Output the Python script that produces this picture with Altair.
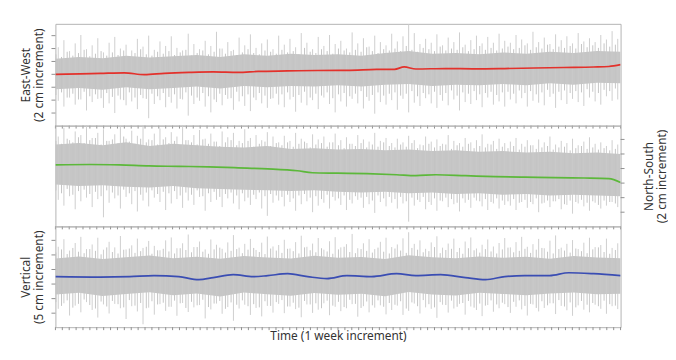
import altair as alt
import pandas as pd

WEEKS = 82
N_BINS = 100
N_CORE = 25
WEEK_TICKS = list(range(0, WEEKS + 1))

# ---------- East-West (cm) ----------
ew_a_hi = [4.2, 5.3, 3.6, 4.8, 6.1, 3.9, 4.5, 5.6, 3.4, 4.9, 5.8, 4.0, 4.6, 3.7, 5.5, 4.3, 6.0, 3.8, 5.1, 4.4,
           5.9, 4.1, 3.7, 6.3, 4.7, 3.9, 5.2, 4.4, 6.6, 4.0, 5.0, 3.8, 5.7, 4.5, 6.2, 4.1, 4.8, 5.4, 3.9, 6.0,
           4.6, 5.5, 4.2, 6.4, 4.9, 3.9, 5.8, 4.4, 6.1, 4.7, 5.2, 4.0, 6.5, 4.8, 5.6, 4.3, 6.0, 5.0, 4.5, 6.3,
           5.1, 5.9, 7.8, 6.4, 4.7, 5.5, 4.9, 6.2, 4.5, 5.7, 5.0, 6.5, 4.6, 5.3, 6.0, 4.8, 5.8, 4.9, 6.3, 5.2,
           4.9, 6.1, 5.4, 4.8, 6.6, 5.0, 5.7, 4.7, 6.2, 5.3, 5.9, 4.8, 6.4, 5.1, 5.6, 5.0, 6.1, 5.4, 6.7, 5.5]
ew_a_lo = [-4.1, -5.0, -3.6, -4.7, -3.9, -5.6, -4.3, -3.8, -5.2, -4.5, -6.0, -3.9, -4.8, -4.2, -5.4, -3.7, -6.8, -4.6, -4.0, -5.1,
           -4.4, -5.3, -3.9, -6.4, -4.6, -4.1, -5.0, -5.9, -4.3, -4.8, -3.8, -5.5, -4.2, -4.9, -5.7, -4.0, -4.5, -5.2, -3.7, -4.7,
           -5.1, -3.9, -5.8, -4.4, -4.8, -4.0, -5.4, -3.6, -4.6, -5.9, -4.2, -5.0, -3.8, -4.5, -5.3, -4.1, -6.1, -4.3, -4.7, -4.0,
           -5.5, -3.8, -5.9, -4.4, -4.9, -3.7, -4.5, -5.2, -4.1, -4.8, -3.9, -5.6, -4.3, -4.6, -4.0, -5.1, -3.6, -4.7, -4.2, -5.0,
           -3.9, -4.5, -3.7, -5.0, -4.1, -4.4, -4.8, -3.5, -5.2, -4.0, -4.6, -3.8, -4.3, -4.9, -3.6, -4.2, -4.7, -3.4, -4.1, -3.9]
ew_b_hi = [3.1, 2.7, 3.5, 2.9, 3.3, 3.8, 2.8, 3.2, 3.6, 2.9, 3.4, 3.0, 3.7, 2.8, 3.3, 3.9, 3.1, 2.9, 3.5, 3.2,
           3.6, 3.0, 3.4, 3.8, 2.9, 3.3, 3.7, 3.1, 3.5, 4.0, 3.2, 3.6, 3.0, 3.4, 3.9, 3.3, 3.1, 3.7, 3.5, 3.2,
           3.8, 3.4, 3.6, 3.1, 4.1, 3.5, 3.3, 3.9, 3.6, 3.2, 4.0, 3.7, 3.4, 3.8, 3.5, 4.2, 3.6, 3.3, 3.9, 3.7,
           4.0, 3.6, 4.4, 3.8, 3.5, 4.1, 3.9, 3.6, 4.3, 3.7, 4.0, 3.8, 4.2, 3.6, 3.9, 4.4, 3.8, 4.1, 3.7, 4.0,
           4.3, 3.9, 4.1, 4.5, 3.8, 4.2, 4.0, 4.6, 3.9, 4.3, 4.1, 4.4, 4.0, 4.7, 4.2, 4.5, 4.1, 4.8, 4.3, 4.6]
ew_b_lo = [-3.2, -2.8, -3.6, -3.0, -3.9, -2.7, -3.4, -3.1, -3.7, -2.9, -3.5, -3.3, -4.0, -2.8, -3.6, -3.2, -3.8, -3.0, -3.4, -2.9,
           -3.5, -3.1, -3.8, -2.8, -3.3, -3.6, -2.9, -3.4, -3.9, -3.0, -3.2, -3.7, -2.7, -3.4, -3.1, -3.6, -2.9, -3.3, -3.8, -3.0,
           -3.1, -2.8, -3.5, -3.2, -2.7, -3.6, -3.0, -3.3, -2.8, -3.7, -3.1, -2.9, -3.4, -3.0, -2.6, -3.5, -3.2, -2.8, -3.3, -3.0,
           -2.8, -3.3, -3.0, -2.6, -3.4, -2.9, -3.1, -2.7, -3.2, -2.9, -2.5, -3.3, -2.8, -3.0, -2.6, -3.1, -2.9, -2.7, -3.2, -2.8,
           -2.7, -3.0, -2.5, -2.9, -2.6, -3.1, -2.8, -2.4, -3.0, -2.7, -2.5, -2.9, -2.6, -2.8, -2.3, -2.7, -2.9, -2.4, -2.6, -2.2]
ew_core_hi = [2.4, 2.7, 2.5, 2.9, 2.6, 2.8, 3.0, 2.7, 3.1, 2.9, 3.2, 3.0, 3.1, 2.9, 3.3, 3.6, 3.2, 3.3, 3.1, 3.4, 3.2, 3.5, 3.3, 3.6, 3.5]
ew_core_lo = [-2.3, -2.1, -2.4, -2.0, -2.3, -2.1, -1.9, -2.2, -1.8, -2.0, -1.8, -1.9, -1.7, -1.9, -1.6, -1.5, -1.8, -1.6, -1.7, -1.5, -1.7, -1.4, -1.6, -1.3, -1.4]
ew_sm_t = [0, 3.6, 6.5, 10.0, 12.9, 15.8, 19.4, 22.9, 26.5, 29.4, 33.7, 38.0, 42.3, 46.6, 49.2, 50.6, 52.3, 56.6, 60.9, 65.2, 69.5, 73.8, 78.1, 80.3, 82.0]
ew_sm_v = [0.0, 0.08, 0.15, 0.23, -0.05, 0.15, 0.3, 0.38, 0.3, 0.45, 0.53, 0.6, 0.62, 0.76, 0.78, 1.15, 0.83, 0.9, 0.85, 0.9, 0.98, 1.06, 1.14, 1.22, 1.5]
ew_ticks = [-6, -4, -2, 0, 2, 4, 6]

# ---------- North-South (cm) ----------
ns_a_hi = [4.4, 5.6, 3.9, 5.1, 4.6, 6.0, 4.2, 4.9, 5.4, 3.8, 4.7, 5.8, 4.1, 5.2, 4.5, 6.2, 4.0, 4.8, 5.5, 4.3,
           5.0, 4.4, 5.9, 3.9, 4.6, 5.3, 4.1, 4.8, 3.7, 5.1, 4.3, 4.9, 3.8, 5.4, 4.2, 4.6, 3.9, 5.0, 4.4, 3.6,
           4.5, 3.8, 4.9, 4.1, 3.5, 4.7, 4.0, 4.4, 3.6, 4.8, 3.9, 4.3, 3.4, 4.6, 4.0, 3.7, 4.9, 3.8, 4.2, 3.5,
           4.1, 3.6, 4.5, 3.9, 3.3, 4.4, 3.7, 4.0, 3.4, 4.6, 3.8, 3.5, 4.2, 3.6, 3.9, 4.7, 3.4, 3.8, 4.1, 3.5,
           3.7, 4.2, 3.4, 3.9, 3.2, 4.0, 3.6, 4.4, 3.3, 3.8, 3.5, 4.1, 3.2, 3.7, 4.3, 3.4, 3.6, 3.1, 3.9, 3.3]
ns_a_lo = [-4.3, -5.1, -3.8, -5.6, -4.5, -4.0, -5.3, -4.2, -6.7, -4.7, -4.1, -5.5, -3.9, -4.9, -5.9, -4.4, -5.2, -4.0, -4.6, -5.7,
           -4.8, -4.2, -5.4, -4.4, -5.0, -3.9, -5.8, -4.6, -4.3, -5.3, -4.1, -4.8, -5.6, -4.5, -5.0, -4.2, -5.5, -6.5, -4.7, -4.4,
           -5.2, -4.6, -5.8, -4.9, -4.5, -6.0, -5.1, -4.7, -5.5, -4.4, -5.0, -5.7, -4.8, -4.3, -5.4, -4.9, -6.1, -4.6, -5.2, -4.7,
           -5.5, -4.8, -7.3, -5.1, -4.6, -5.6, -5.0, -5.8, -4.5, -5.3, -4.9, -5.9, -4.7, -5.4, -4.4, -5.2, -5.7, -4.8, -5.5, -5.0,
           -5.1, -5.7, -4.6, -5.4, -4.9, -6.0, -4.7, -5.3, -4.5, -5.6, -5.0, -6.2, -4.8, -5.2, -5.8, -4.7, -5.5, -5.1, -4.6, -5.3]
ns_b_hi = [3.8, 3.4, 4.1, 3.6, 4.3, 3.5, 3.9, 4.2, 3.3, 3.8, 4.0, 3.5, 4.4, 3.7, 3.4, 4.1, 3.6, 3.9, 3.3, 4.0,
           3.5, 3.8, 3.2, 3.9, 3.6, 3.3, 4.0, 3.4, 3.7, 3.1, 3.6, 3.9, 3.2, 3.5, 3.8, 3.0, 3.4, 3.7, 3.1, 3.5,
           3.2, 3.6, 3.0, 3.4, 3.7, 2.9, 3.3, 3.5, 3.0, 3.6, 3.2, 2.8, 3.4, 3.1, 3.5, 2.9, 3.3, 3.0, 3.6, 3.1,
           2.9, 3.3, 3.0, 3.5, 2.8, 3.2, 3.4, 2.9, 3.1, 3.3, 2.7, 3.2, 3.0, 3.4, 2.8, 3.1, 2.9, 3.3, 2.7, 3.0,
           2.8, 3.1, 2.6, 3.0, 3.2, 2.7, 2.9, 3.1, 2.6, 2.9, 3.0, 2.5, 2.8, 3.1, 2.7, 2.9, 2.6, 2.8, 2.5, 2.7]
ns_b_lo = [-3.0, -3.4, -2.8, -3.6, -3.1, -2.9, -3.5, -3.2, -3.8, -3.0, -3.3, -3.7, -2.9, -3.4, -3.1, -3.6, -3.3, -3.0, -3.5, -3.2,
           -3.4, -3.1, -3.7, -3.3, -3.6, -3.0, -3.8, -3.4, -3.2, -3.9, -3.5, -3.3, -3.7, -3.4, -4.0, -3.6, -3.3, -3.8, -3.5, -3.7,
           -3.9, -3.6, -4.1, -3.7, -3.5, -4.0, -3.8, -4.2, -3.6, -3.9, -4.1, -3.7, -4.3, -3.8, -4.0, -3.9, -4.4, -3.7, -4.1, -3.9,
           -4.2, -3.9, -4.5, -4.0, -4.3, -3.9, -4.6, -4.1, -4.4, -4.0, -4.2, -4.7, -4.1, -4.3, -4.0, -4.5, -4.2, -4.6, -4.1, -4.4,
           -4.5, -4.2, -4.7, -4.3, -4.6, -4.1, -4.8, -4.4, -4.5, -4.2, -4.9, -4.4, -4.6, -4.3, -4.7, -4.5, -5.0, -4.4, -4.6, -4.8]
ns_core_hi = [3.3, 3.5, 3.2, 3.6, 3.1, 3.4, 3.2, 3.0, 2.9, 3.1, 2.7, 2.8, 2.6, 2.7, 2.5, 2.6, 2.4, 2.5, 2.3, 2.4, 2.2, 2.3, 2.1, 2.2, 2.0]
ns_core_lo = [-2.2, -2.4, -2.3, -2.5, -2.6, -2.4, -2.7, -2.8, -2.9, -3.0, -3.1, -3.0, -3.2, -3.3, -3.2, -3.4, -3.3, -3.5, -3.4, -3.6, -3.5, -3.7, -3.6, -3.7, -3.8]
ns_sm_t = [0, 5.0, 9.3, 13.6, 17.9, 22.2, 26.5, 30.8, 35.1, 37.3, 40.9, 45.2, 49.5, 52.3, 55.2, 59.5, 63.8, 68.1, 72.4, 76.7, 80.3, 82.0]
ns_sm_v = [0.5, 0.56, 0.5, 0.36, 0.3, 0.23, 0.1, -0.04, -0.3, -0.58, -0.64, -0.71, -0.85, -0.98, -0.85, -0.98, -1.11, -1.18, -1.25, -1.3, -1.38, -1.92]
ns_ticks = [-6, -4, -2, 0, 2, 4]

# ---------- Vertical (cm) ----------
vt_a_hi = [7.8, 10.4, 6.5, 9.1, 11.2, 7.0, 8.6, 10.9, 6.8, 9.5, 7.6, 11.5, 6.9, 8.3, 10.6, 7.4, 9.8, 8.1, 6.6, 10.0,
           11.0, 7.3, 9.0, 12.0, 7.7, 9.6, 6.9, 10.3, 8.5, 7.1, 9.3, 11.8, 7.5, 8.8, 10.5, 6.7, 9.2, 11.3, 7.9, 8.4,
           10.2, 7.2, 9.4, 11.6, 7.8, 8.9, 10.8, 6.8, 9.7, 11.1, 7.6, 8.7, 12.2, 7.3, 9.0, 10.4, 7.0, 9.5, 10.9, 7.7,
           8.6, 10.7, 12.8, 8.8, 10.0, 7.1, 9.3, 11.4, 7.5, 8.9, 10.6, 7.4, 9.6, 11.0, 7.2, 8.5, 10.3, 7.9, 9.1, 10.8,
           7.6, 9.4, 11.2, 7.8, 8.7, 10.5, 7.3, 9.9, 11.7, 7.5, 8.8, 10.1, 7.0, 9.2, 10.9, 7.7, 8.4, 10.6, 7.4, 9.0]
vt_a_lo = [-13.5, -11.6, -15.8, -12.4, -14.7, -11.2, -13.9, -16.5, -12.0, -15.1, -11.8, -13.3, -17.0, -12.6, -14.4, -18.8, -13.1, -15.5, -11.9, -14.2,
           -12.8, -15.9, -11.5, -14.6, -13.0, -12.2, -16.8, -13.7, -11.7, -15.2, -12.9, -17.6, -13.4, -12.1, -15.6, -13.2, -16.1, -12.5, -14.8, -11.8,
           -15.0, -12.7, -13.6, -16.4, -12.0, -14.9, -13.8, -11.6, -15.7, -12.8, -14.3, -13.3, -11.9, -16.2, -12.6, -14.7, -13.1, -12.3, -15.4, -13.9,
           -12.4, -15.6, -14.2, -11.7, -15.1, -13.0, -13.5, -16.6, -12.1, -14.8, -13.4, -11.8, -15.5, -12.7, -13.9, -16.0, -12.2, -14.5, -13.3, -11.9,
           -14.9, -12.8, -13.7, -15.8, -12.0, -14.4, -13.2, -11.6, -15.3, -12.5, -14.0, -15.9, -12.3, -13.8, -14.7, -12.1, -13.5, -15.2, -12.6, -13.6]
vt_b_hi = [5.8, 6.9, 5.3, 7.4, 6.1, 5.6, 7.0, 6.4, 5.2, 7.6, 6.0, 5.5, 6.8, 7.2, 5.7, 6.3, 7.8, 5.4, 6.6, 7.1,
           6.2, 5.5, 7.3, 6.7, 5.9, 7.7, 6.1, 5.4, 6.9, 7.5, 5.8, 6.4, 7.0, 5.6, 6.8, 7.4, 6.0, 5.3, 7.2, 6.5,
           5.7, 7.1, 6.3, 5.5, 7.6, 6.6, 5.9, 7.3, 6.2, 5.4, 6.9, 7.8, 6.0, 5.6, 7.0, 6.4, 5.8, 7.5, 6.1, 5.5,
           7.2, 6.5, 5.7, 7.4, 6.8, 5.9, 6.3, 7.7, 5.6, 6.7, 7.1, 6.0, 5.4, 7.3, 6.6, 5.8, 7.0, 6.2, 5.5, 6.9,
           7.5, 5.9, 6.4, 7.1, 5.7, 6.8, 7.4, 6.1, 5.5, 7.0, 6.5, 5.8, 7.2, 6.3, 5.6, 6.9, 7.6, 6.0, 5.4, 6.7]
vt_b_lo = [-11.2, -12.5, -10.6, -13.1, -11.8, -10.3, -12.2, -13.4, -11.0, -12.7, -10.8, -11.9, -13.0, -10.5, -12.4, -11.5, -13.3, -10.9, -12.0, -11.4,
           -12.8, -10.7, -11.6, -13.2, -11.1, -12.3, -10.4, -12.9, -11.7, -10.8, -13.5, -11.3, -12.1, -10.6, -12.6, -11.9, -13.0, -10.9, -12.5, -11.2,
           -10.5, -12.7, -11.4, -13.1, -10.8, -12.0, -11.6, -13.3, -10.7, -12.4, -11.1, -12.9, -10.4, -11.8, -13.2, -11.0, -12.3, -10.6, -12.8, -11.5,
           -12.1, -10.9, -13.4, -11.3, -12.6, -10.5, -11.9, -13.0, -11.2, -12.2, -10.7, -12.8, -11.5, -10.8, -13.1, -11.7, -12.4, -10.6, -12.0, -11.4,
           -12.9, -11.1, -10.6, -12.5, -11.8, -13.2, -10.9, -12.3, -11.6, -10.5, -12.7, -11.3, -13.0, -10.8, -12.1, -11.5, -12.6, -10.7, -11.9, -12.4]
vt_core_hi = [3.8, 4.5, 3.6, 4.2, 4.8, 3.9, 4.4, 3.7, 4.6, 4.1, 3.8, 4.7, 4.0, 4.3, 3.6, 4.9, 4.2, 3.9, 4.5, 4.0, 4.4, 3.7, 4.6, 4.1, 3.9]
vt_core_lo = [-8.6, -8.0, -9.1, -8.4, -7.8, -8.8, -8.2, -9.3, -7.9, -8.5, -9.0, -8.1, -8.7, -8.3, -9.2, -7.7, -8.6, -8.9, -8.0, -8.4, -8.8, -8.2, -7.9, -8.5, -8.3]
vt_sm_t = [0, 6.5, 10.8, 14.3, 17.9, 20.8, 22.9, 25.8, 28.7, 30.8, 33.7, 36.6, 39.4, 42.3, 45.9, 49.5, 52.3, 55.9, 59.5, 62.4, 65.2, 68.1, 71.7, 74.5, 78.1, 82.0]
vt_sm_v = [-2.45, -2.62, -2.45, -2.11, -2.45, -3.46, -2.79, -1.78, -2.45, -2.11, -1.44, -2.45, -3.12, -2.11, -2.45, -1.44, -2.11, -1.78, -2.79, -3.46, -2.45, -2.11, -2.11, -1.11, -1.44, -2.11]
vt_ticks = [-15, -10, -5, 0, 5, 10]

FONT = "Noto Sans"
TXT = "#333333"
TICK = "#8f8f8f"
PLOT_W = 572


def panel(a_hi, a_lo, b_hi, b_lo, core_hi, core_lo, sm_t, sm_v, color, dom, ticks, title, orient,
          height, title_pad, xtitle=None):
    step = WEEKS / N_BINS
    spikes_a = pd.DataFrame({"t": [(i + 0.5) * step for i in range(N_BINS)], "hi": a_hi, "lo": a_lo})
    spikes_b = pd.DataFrame({"t": [(i + 0.08) * step for i in range(N_BINS)], "hi": b_hi, "lo": b_lo})
    core = pd.DataFrame({"t": [i * WEEKS / (N_CORE - 1) for i in range(N_CORE)], "hi": core_hi, "lo": core_lo})
    sm = pd.DataFrame({"t": sm_t, "v": sm_v})
    yt = pd.DataFrame({"v": ticks})
    xt = pd.DataFrame({"t": WEEK_TICKS})

    xs = alt.Scale(domain=[0, WEEKS], nice=False, zero=False)
    if xtitle:
        xaxis = alt.Axis(title=xtitle, titleFont=FONT, titleFontSize=12, titleFontWeight="normal",
                         titleColor=TXT, titlePadding=3, labels=False, ticks=False, domain=False,
                         grid=False)
    else:
        xaxis = None
    ys = alt.Scale(domain=dom, nice=False, zero=False)
    ykw = dict(orient=orient, labels=False, ticks=False, domain=False, grid=False, title=title,
               titleAngle=270, titleFont=FONT, titleFontSize=12, titleFontWeight="normal",
               titleColor=TXT, titleLineHeight=13, titlePadding=title_pad)
    if orient == "right":
        ykw["titleBaseline"] = "top"
    yaxis = alt.Axis(**ykw)

    a = alt.Chart(core).mark_area(color="#c6c6c6", clip=True).encode(
        x=alt.X("t:Q", scale=xs, axis=xaxis), y=alt.Y("hi:Q", scale=ys, axis=yaxis), y2="lo:Q")
    rb = alt.Chart(spikes_b).mark_rule(color="#c4c4c4", strokeWidth=1, clip=True).encode(
        x="t:Q", y="hi:Q", y2="lo:Q")
    ra = alt.Chart(spikes_a).mark_rule(color="#c9c9c9", strokeWidth=0.9, clip=True).encode(
        x="t:Q", y="hi:Q", y2="lo:Q")
    ln = alt.Chart(sm).mark_line(color=color, strokeWidth=1.7, interpolate="monotone", clip=True).encode(
        x="t:Q", y="v:Q")
    if orient == "left":
        tx, tx2 = alt.value(-4), alt.value(0)
    else:
        tx, tx2 = alt.value(PLOT_W), alt.value(PLOT_W + 4)
    ytk = alt.Chart(yt).mark_rule(color=TICK, strokeWidth=1).encode(y="v:Q", x=tx, x2=tx2)
    xtk = alt.Chart(xt).mark_rule(color=TICK, strokeWidth=1).encode(
        x="t:Q", y=alt.value(height), y2=alt.value(height + 3))
    return alt.layer(a, ra, rb, ln, ytk, xtk).properties(width=PLOT_W, height=height)


p1 = panel(ew_a_hi, ew_a_lo, ew_b_hi, ew_b_lo, ew_core_hi, ew_core_lo, ew_sm_t, ew_sm_v, "#e3312b",
           [-7.95, 7.83], ew_ticks, ["East-West", "(2 cm increment)"], "left", 103, 10)
p2 = panel(ns_a_hi, ns_a_lo, ns_b_hi, ns_b_lo, ns_core_hi, ns_core_lo, ns_sm_t, ns_sm_v, "#5cb83a",
           [-7.95, 5.9], ns_ticks, ["North-South", "(2 cm increment)"], "right", 102, 10)
p3 = panel(vt_a_hi, vt_a_lo, vt_b_hi, vt_b_lo, vt_core_hi, vt_core_lo, vt_sm_t, vt_sm_v, "#3a4db3",
           [-19.8, 14.8], vt_ticks, ["Vertical", "(5 cm increment)"], "left", 102, 10,
           xtitle="Time (1 week increment)")

chart = alt.vconcat(p1, p2, p3, spacing=0, bounds="flush").properties(
    padding={"left": 11, "top": 13, "right": 0, "bottom": 0},
    background="white",
).configure_view(stroke="#b3b3b3", strokeWidth=1)

chart.save("out.html", embed_options={"renderer": "svg", "actions": False})
